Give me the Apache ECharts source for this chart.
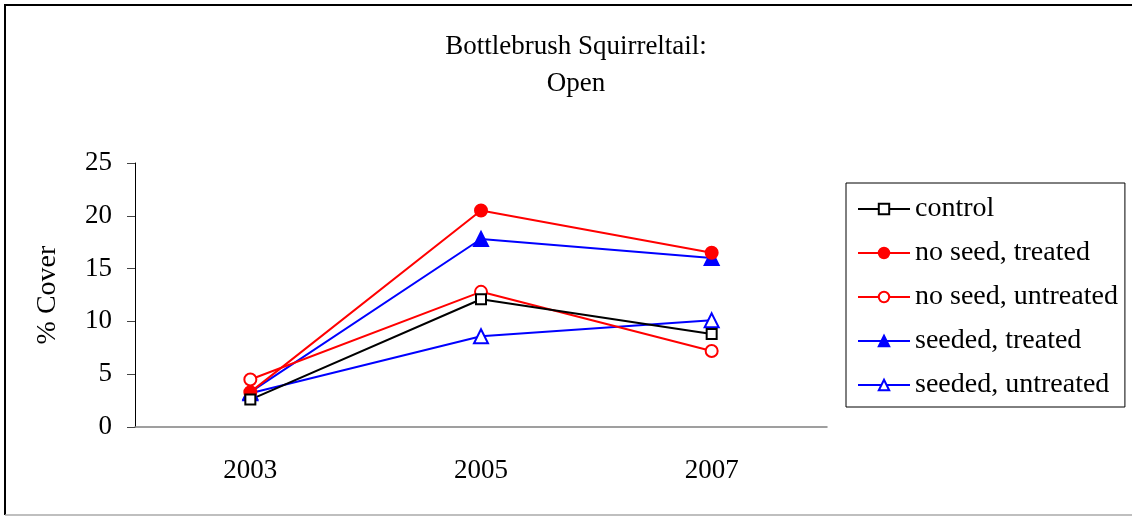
<!DOCTYPE html>
<html>
<head>
<meta charset="utf-8">
<script src="https://cdn.jsdelivr.net/npm/echarts@6/dist/echarts.min.js"></script>
<style>
html, body { margin: 0; padding: 0; background: #fff; }
#main { width: 1132px; height: 516px; }
</style>
</head>
<body>
<div id="main"></div>
<script>
// data
var years = ['2003', '2005', '2007'];
var control = [2.6, 12.1, 8.8];
var noSeedTreated = [3.3, 20.5, 16.5];
var noSeedUntreated = [4.5, 12.8, 7.2];
var seededTreated = [3.3, 17.8, 16.0];
var seededUntreated = [3.2, 8.6, 10.1];

var serif = '"Liberation Serif", "Times New Roman", serif';
var chart = echarts.init(document.getElementById('main'));

function mkSeries(name, data, color, symbol, size, filled) {
    return {
        name: name,
        type: 'line',
        data: data,
        symbol: symbol,
        symbolSize: size,
        showAllSymbol: true,
        lineStyle: { color: color, width: 2 },
        itemStyle: { color: filled ? color : '#fff', borderColor: color, borderWidth: 2 },
        emphasis: { disabled: true }
    };
}

var option = {
    animation: false,
    title: {
        text: 'Bottlebrush Squirreltail:\nOpen',
        left: 571,
        top: 23,
        textAlign: 'center',
        textStyle: { fontFamily: serif, fontSize: 27, fontWeight: 'normal', color: '#000', lineHeight: 37 }
    },
    legend: {
        orient: 'vertical',
        left: 846,
        top: 183,
        padding: [12, 7, 8, 11],
        borderColor: '#000',
        borderWidth: 1,
        itemWidth: 52,
        itemHeight: 13,
        itemGap: 16,
        textStyle: { fontFamily: serif, fontSize: 28, color: '#000', lineHeight: 28 },
        data: ['control', 'no seed, treated', 'no seed, untreated', 'seeded, treated', 'seeded, untreated']
    },
    grid: { left: 135, right: 305, top: 163, bottom: 89 },
    xAxis: {
        type: 'category',
        data: years,
        boundaryGap: true,
        axisLine: { lineStyle: { color: '#808080', width: 1.5 } },
        axisTick: { alignWithLabel: false, length: 10, lineStyle: { color: '#444' } },
        axisLabel: { fontFamily: serif, fontSize: 27, color: '#000', margin: 30 }
    },
    yAxis: {
        type: 'value',
        min: 0,
        max: 25,
        interval: 5,
        name: '% Cover',
        nameLocation: 'middle',
        nameGap: 73,
        nameTextStyle: { fontFamily: serif, fontSize: 28, color: '#000' },
        axisLine: { show: true, lineStyle: { color: '#000', width: 1 } },
        axisTick: { show: true, length: 8, lineStyle: { color: '#444' } },
        splitLine: { show: false },
        axisLabel: { fontFamily: serif, fontSize: 27, color: '#000', margin: 23 }
    },
    graphic: [
        { type: 'line', shape: { x1: 5, y1: 5, x2: 1132, y2: 5 }, style: { stroke: '#000', lineWidth: 2 } },
        { type: 'line', shape: { x1: 5, y1: 4, x2: 5, y2: 515 }, style: { stroke: '#000', lineWidth: 2 } },
        { type: 'line', shape: { x1: 5, y1: 515, x2: 1132, y2: 515 }, style: { stroke: '#aaa', lineWidth: 1.5 } }
    ],
    series: [
        mkSeries('seeded, untreated', seededUntreated, '#0000ff', 'triangle', 14, false),
        mkSeries('seeded, treated', seededTreated, '#0000ff', 'triangle', 14, true),
        mkSeries('no seed, untreated', noSeedUntreated, '#ff0000', 'circle', 12, false),
        mkSeries('no seed, treated', noSeedTreated, '#ff0000', 'circle', 12, true),
        mkSeries('control', control, '#000000', 'rect', 10, false)
    ]
};

chart.setOption(option);
window.onresize = function () { chart.resize(); };
</script>
</body>
</html>
